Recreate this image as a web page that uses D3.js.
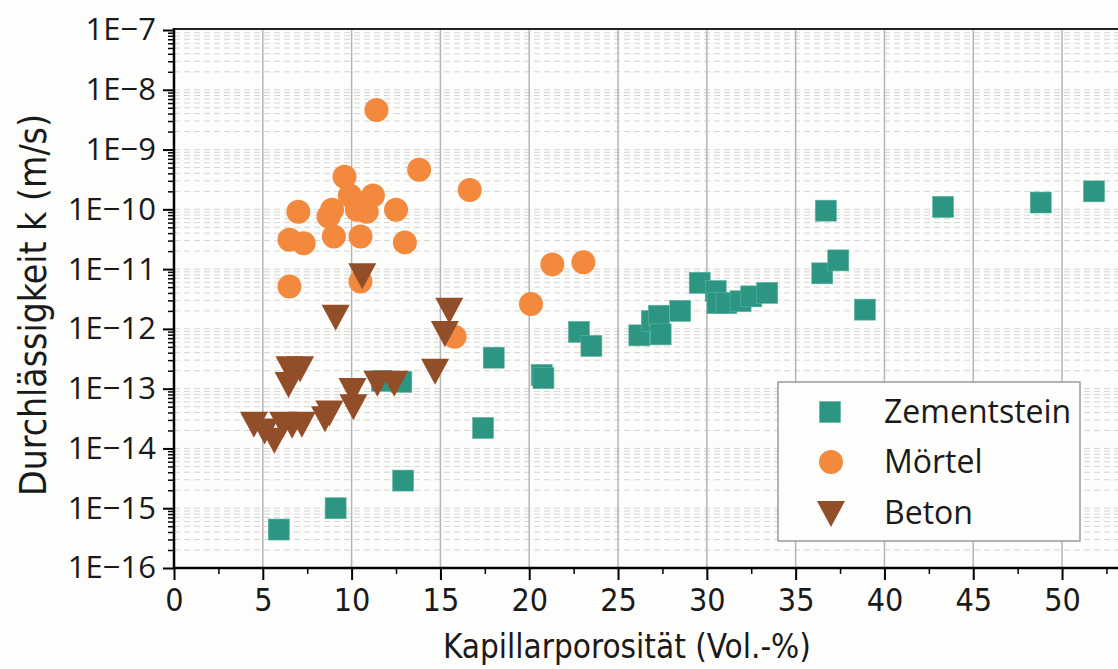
<!DOCTYPE html>
<html lang="de">
<head>
<meta charset="utf-8">
<title>Durchlässigkeit vs. Kapillarporosität</title>
<script src="https://d3js.org/d3.v7.min.js"></script>
<style type="text/css">
  body { margin: 0; background: #fdfdfb; }
  svg { display: block; }
</style>
</head>
<body>
<svg width="1118" height="669" id="chart"></svg>
<script>
// data
var zementX = [5.9, 9.1, 12.9, 17.4, 18.0, 11.7, 12.8, 20.7, 20.8, 22.8, 23.5, 26.2, 26.9, 27.3, 27.4,
               28.5, 29.6, 30.5, 30.6, 31.1, 31.9, 32.5, 33.4, 36.5, 36.7, 37.4, 38.9, 43.3, 48.8, 51.8];
var zementK = [4.4e-16, 1.0e-15, 2.9e-15, 2.2e-14, 3.3e-13, 1.35e-13, 1.3e-13, 1.7e-13, 1.5e-13, 8.9e-13, 5.2e-13,
               7.8e-13, 1.35e-12, 1.66e-12, 8.1e-13, 2.0e-12, 5.9e-12, 4.3e-12, 2.7e-12, 2.7e-12, 2.9e-12, 3.5e-12,
               4.0e-12, 8.5e-12, 9.5e-11, 1.4e-11, 2.1e-12, 1.1e-10, 1.3e-10, 2.0e-10];

var moertelX = [6.5, 6.5, 7.0, 7.3, 8.7, 8.9, 9.0, 9.6, 9.9, 10.3, 10.5, 10.85, 10.5, 10.5, 11.2, 11.4,
                12.5, 13.0, 13.8, 15.8, 16.65, 20.1, 21.3, 23.05];
var moertelK = [5.1e-12, 3.1e-11, 9.1e-11, 2.7e-11, 7.6e-11, 9.8e-11, 3.5e-11, 3.5e-10, 1.7e-10, 9.8e-11, 1.26e-10,
                9.1e-11, 3.5e-11, 6.2e-12, 1.7e-10, 4.6e-9, 9.8e-11, 2.8e-11, 4.6e-10, 7.4e-13, 2.1e-10, 2.6e-12,
                1.2e-11, 1.3e-11];

var betonX = [4.5, 5.1, 5.65, 6.15, 6.65, 7.2, 8.5, 8.75, 10.05, 10.1, 9.1, 10.6, 6.5, 7.1, 6.45,
              11.45, 12.4, 14.7, 15.25, 15.5];
var betonK = [2.6e-14, 2.0e-14, 1.4e-14, 2.6e-14, 2.5e-14, 2.6e-14, 3.2e-14, 4.0e-14, 9.5e-14, 5.1e-14, 1.6e-12,
              7.9e-12, 2.2e-13, 2.2e-13, 1.2e-13, 1.25e-13, 1.25e-13, 2.0e-13, 8.5e-13, 2.1e-12];

var xTicks = [0, 5, 10, 15, 20, 25, 30, 35, 40, 45, 50];
var yExponents = [-16, -15, -14, -13, -12, -11, -10, -9, -8, -7];
var seriesNames = ["Zementstein", "Mörtel", "Beton"];
var seriesColors = ["#2c9683", "#f2893d", "#924e29"];

var svg = d3.select("#chart");
var pLeft = 174, pTop = 30, pBottom = 568, pRight = 1118;
var narrow = "'DejaVu Sans Condensed', 'Liberation Sans Narrow', Lato, sans-serif";

var x = d3.scaleLinear().domain([0, 53.15]).range([pLeft, pRight]);
var y = d3.scaleLog().domain([1e-16, 1e-7]).range([pBottom, pTop]);

// minor values for log grid
var yMinor = [];
yExponents.slice(0, -1).forEach(function(e) {
  for (var m = 2; m <= 9; m++) yMinor.push(m * Math.pow(10, e));
});
var yMajor = yExponents.map(function(e) { return Math.pow(10, e); });

// horizontal dashed grid
var grid = svg.append("g");
grid.selectAll(".hg").data(yMinor.concat(yMajor.slice(1, -1))).enter().append("line")
  .attr("x1", pLeft).attr("x2", pRight)
  .attr("y1", function(d) { return y(d); }).attr("y2", function(d) { return y(d); })
  .attr("stroke", "#d4d4d4").attr("stroke-width", 1).attr("stroke-dasharray", "6,4");
// vertical grid
grid.selectAll(".vg").data(xTicks.slice(1)).enter().append("line")
  .attr("x1", function(d) { return x(d); }).attr("x2", function(d) { return x(d); })
  .attr("y1", pTop).attr("y2", pBottom)
  .attr("stroke", "#b5b5b5").attr("stroke-width", 1.5);

// top frame line
svg.append("line").attr("x1", pLeft).attr("x2", pRight).attr("y1", pTop - 1).attr("y2", pTop - 1)
  .attr("stroke", "#222").attr("stroke-width", 2);

// points
var g = svg.append("g");
g.selectAll(".sq").data(d3.range(zementX.length)).enter().append("rect")
  .attr("x", function(i) { return x(zementX[i]) - 10.5; })
  .attr("y", function(i) { return y(zementK[i]) - 10.5; })
  .attr("width", 21).attr("height", 21)
  .attr("fill", seriesColors[0]).attr("stroke", "#5cb3a3").attr("stroke-width", 0.6);

g.selectAll(".ci").data(d3.range(moertelX.length)).enter().append("circle")
  .attr("cx", function(i) { return x(moertelX[i]); })
  .attr("cy", function(i) { return y(moertelK[i]); })
  .attr("r", 12).attr("fill", seriesColors[1]);

function tri(cx, cy) {
  return "M" + (cx - 14) + "," + (cy - 12) + "L" + (cx + 14) + "," + (cy - 12) + "L" + cx + "," + (cy + 14) + "Z";
}
g.selectAll(".tr").data(d3.range(betonX.length)).enter().append("path")
  .attr("d", function(i) { return tri(x(betonX[i]), y(betonK[i])); })
  .attr("fill", seriesColors[2]);

// axes
var xAxis = d3.axisBottom(x).tickValues(xTicks).tickSize(12).tickPadding(8).tickFormat(d3.format("d"));
var xAxisMinor = d3.axisBottom(x).tickValues(d3.range(2.5, 53, 5)).tickSize(6).tickFormat("");
var gx = svg.append("g").attr("transform", "translate(0," + pBottom + ")").call(xAxis);
svg.append("g").attr("transform", "translate(0," + pBottom + ")").call(xAxisMinor)
  .call(function(s) { s.select(".domain").remove(); s.selectAll("line").attr("stroke-width", 1.5); });
gx.select(".domain").attr("d", "M" + pLeft + ",0H" + pRight).attr("stroke-width", 2.5);
gx.selectAll(".tick line").attr("stroke-width", 2);
gx.selectAll("text").attr("font-family", narrow)
  .attr("font-size", 32).attr("fill", "#1a1a1a");

var yAxis = d3.axisLeft(y).tickValues(yMajor).tickSize(11).tickPadding(7)
  .tickFormat(function(d) { return "1E\u2212" + Math.round(-Math.log10(d)); });
var yAxisMinor = d3.axisLeft(y).tickValues(yMinor).tickSize(6).tickFormat("");
var gy = svg.append("g").attr("transform", "translate(" + pLeft + ",0)").call(yAxis);
svg.append("g").attr("transform", "translate(" + pLeft + ",0)").call(yAxisMinor)
  .call(function(s) { s.select(".domain").remove(); s.selectAll("line").attr("stroke-width", 1.5); });
gy.select(".domain").attr("d", "M0," + (pTop - 2) + "V" + pBottom).attr("stroke-width", 2.5);
gy.selectAll(".tick line").attr("stroke-width", 2);
gy.selectAll("text").attr("font-family", "'Open Sans', sans-serif")
  .attr("font-size", 31).attr("fill", "#1a1a1a");

// axis titles
svg.append("text").attr("x", x(25.5)).attr("y", 658).attr("text-anchor", "middle")
  .attr("font-family", narrow).attr("font-size", 33).attr("fill", "#1a1a1a")
  .text("Kapillarporosität (Vol.-%)");
svg.append("text").attr("transform", "translate(46," + ((pTop + pBottom) / 2 + 6) + ") rotate(-90)")
  .attr("text-anchor", "middle")
  .attr("font-family", narrow).attr("font-size", 37).attr("fill", "#1a1a1a")
  .text("Durchlässigkeit k (m/s)");

// legend
var lg = svg.append("g");
lg.append("rect").attr("x", 778).attr("y", 382).attr("width", 302).attr("height", 159)
  .attr("fill", "#fdfdfb").attr("stroke", "#9a9a9a").attr("stroke-width", 1.5);
var ly = [412, 462, 513];
lg.append("rect").attr("x", 830 - 10.5).attr("y", ly[0] - 10.5).attr("width", 21).attr("height", 21)
  .attr("fill", seriesColors[0]).attr("stroke", "#5cb3a3").attr("stroke-width", 0.6);
lg.append("circle").attr("cx", 831).attr("cy", ly[1]).attr("r", 12).attr("fill", seriesColors[1]);
lg.append("path").attr("d", tri(831, ly[2])).attr("fill", seriesColors[2]);
lg.selectAll(".lt").data(seriesNames).enter().append("text")
  .attr("x", 884).attr("y", function(d, i) { return ly[i] + 11; })
  .attr("font-family", "'Open Sans', sans-serif").attr("font-size", 32).attr("fill", "#1a1a1a")
  .text(function(d) { return d; });
</script>
</body>
</html>
